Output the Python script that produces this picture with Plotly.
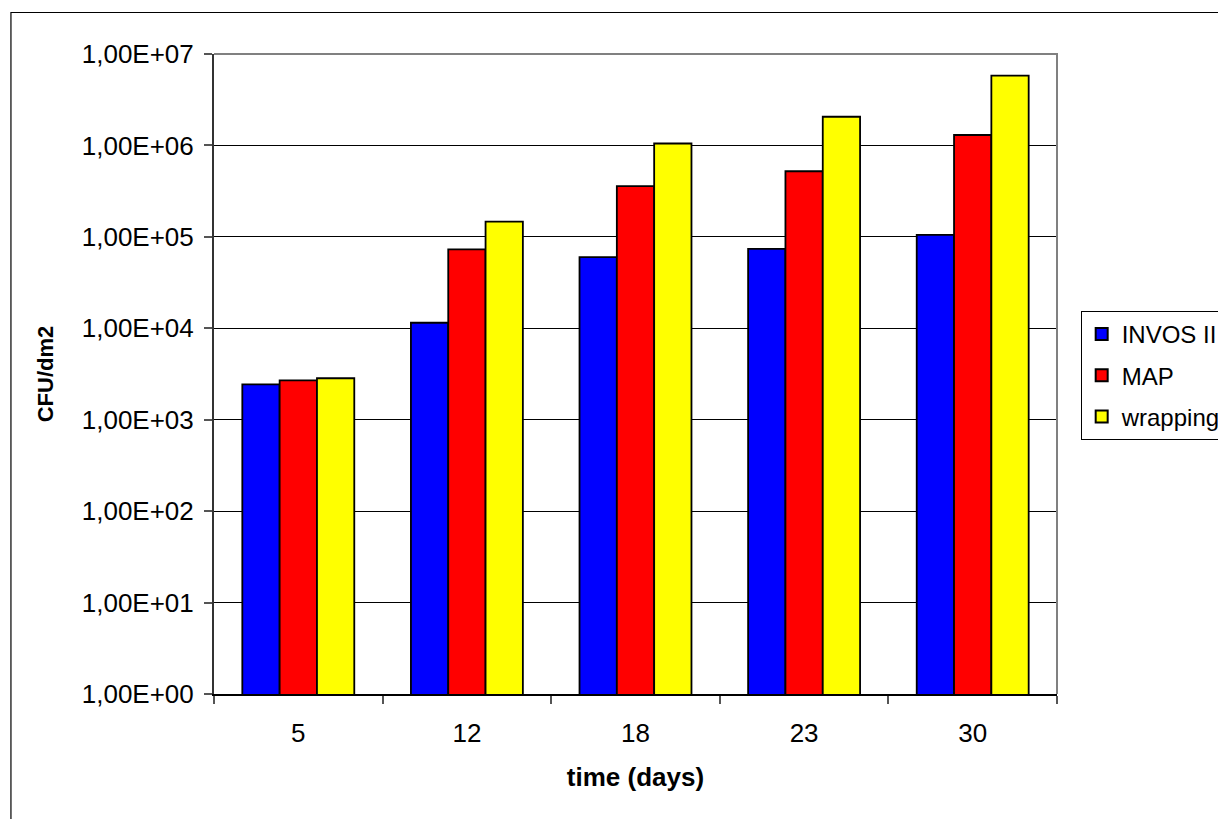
import plotly.graph_objects as go

days = ["5", "12", "18", "23", "30"]
invos = [2440, 11500, 60000, 74000, 105000]
map_vals = [2700, 73000, 358000, 522000, 1300000]
wrapping = [2840, 147000, 1050000, 2060000, 5800000]
series_names = ["INVOS II", "MAP", "wrapping"]
series_colors = ["#0000FF", "#FF0000", "#FFFF00"]
ytick_vals = [1, 10, 100, 1000, 10000, 100000, 1000000, 10000000]
ytick_text = ["1,00E+00", "1,00E+01", "1,00E+02", "1,00E+03",
              "1,00E+04", "1,00E+05", "1,00E+06", "1,00E+07"]

W, H = 1218, 819
L, R, T, B = 213.7, 1057.3, 54, 694
FONT = "Liberation Sans, Arial, sans-serif"

fig = go.Figure()
for name, vals, col in zip(series_names, [invos, map_vals, wrapping], series_colors):
    fig.add_trace(go.Bar(x=days, y=vals, name=name, legendgroup=name,
                         marker=dict(color=col, line=dict(color="black", width=1.8))))

def px_x(p):
    return (p - L) / (R - L)

def px_y(p):
    return (B - p) / (B - T)

# outer chart border (left and top visible)
fig.add_shape(type="path", xref="paper", yref="paper",
              path=f"M {px_x(10.5)},{px_y(900)} L {px_x(10.5)},{px_y(12.5)} L {px_x(1300)},{px_y(12.5)}",
              line=dict(color="black", width=1.2))
# plot area border top/right in gray
fig.add_shape(type="path", xref="paper", yref="paper",
              path="M 0,1 L 1,1 L 1,0",
              line=dict(color="#808080", width=2))

fig.update_layout(
    width=W, height=H,
    margin=dict(l=L, r=W - R, t=T, b=H - B, pad=0, autoexpand=False),
    paper_bgcolor="white", plot_bgcolor="white",
    barmode="group", bargap=0.336, bargroupgap=0,
    font=dict(family=FONT, size=26, color="black"),
    showlegend=True,
    legend=dict(x=px_x(1081), y=px_y(311), xanchor="left", yanchor="top",
                bordercolor="black", borderwidth=1, bgcolor="white",
                font=dict(size=24), tracegroupgap=7,
                itemsizing="constant"),
    xaxis=dict(type="category", showgrid=False, showline=True, linecolor="black",
               linewidth=1.5, ticks="outside", tickson="boundaries", ticklen=8,
               tickcolor="#555555", tickwidth=1.5, ticklabelstandoff=15,
               tickfont=dict(size=26),
               title=dict(text="<b>time (days)</b>", standoff=21,
                          font=dict(size=26))),
    yaxis=dict(type="log", range=[0, 7], tickvals=ytick_vals, ticktext=ytick_text,
               showgrid=True, gridcolor="black", gridwidth=1,
               showline=True, linecolor="#333333", linewidth=2,
               ticks="outside", ticklen=8, tickcolor="#555555", tickwidth=1.5,
               ticklabelstandoff=5, zeroline=False, tickfont=dict(size=26),
               title=dict(text="<b>CFU/dm2</b>", standoff=22,
                          font=dict(size=22))),
)

fig.write_html("out.html", config={"displayModeBar": False},
               post_script="document.body.style.margin='0';document.body.style.overflow='hidden';")
